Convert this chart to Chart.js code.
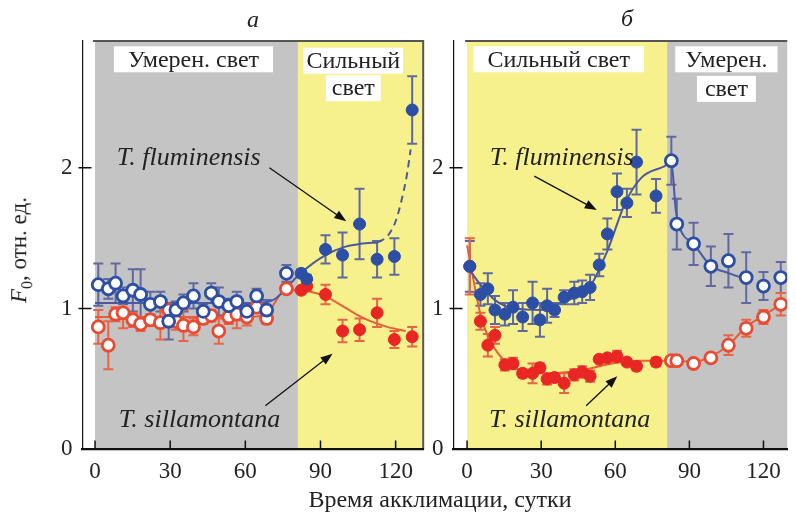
<!DOCTYPE html>
<html>
<head>
<meta charset="utf-8">
<script src="https://cdn.jsdelivr.net/npm/chart.js@4.4.1/dist/chart.umd.min.js"></script>
<style>
  body { margin: 0; background: #fff; }
  #wrap { position: relative; width: 796px; height: 514px; overflow: hidden; font-family: "Liberation Serif", serif; color: #222; }
  canvas { position: absolute; top: 0; }
  #cizq { left: 0; }
  #cder { left: 419px; }
  .lbl { position: absolute; white-space: nowrap; font-size: 24px; }
  .panel { font-style: italic; transform: translate(-50%, -50%); }
  #ytitle { left: 21px; top: 250px; transform: translate(-50%, -50%) rotate(-90deg); font-size: 23px; }
  #xtitle { left: 440px; top: 499px; transform: translate(-50%, -50%); font-size: 24px; }
</style>
</head>
<body>
<div id="wrap">
  <canvas id="cizq" width="432" height="514"></canvas>
  <canvas id="cder" width="377" height="514"></canvas>
  <div class="lbl panel" style="left:253px; top:19px;">а</div>
  <div class="lbl panel" style="left:627px; top:18px;">б</div>
  <div class="lbl" id="ytitle"><i>F</i><sub style="font-size:16px">0</sub>, отн. ед.</div>
  <div class="lbl" id="xtitle">Время акклимации, сутки</div>
</div>
<script>
// ---- data ----
const xTicks = [0, 30, 60, 90, 120];
const yTicks = [0, 1, 2];

// panel a: moderate light (open symbols)
const aModDays = [1.3, 5.3, 8.2, 11.2, 15.1, 18.2, 22.1, 26.1, 29.4, 32.3, 35.3, 39.3, 43.2, 46.4, 49.4, 53.4, 56.6, 60.6, 64.5, 68.5, 76.4];
const aBlueMod = [1.17, 1.14, 1.18, 1.09, 1.13, 1.10, 1.03, 1.05, 0.91, 0.99, 1.04, 1.09, 0.98, 1.11, 1.05, 1.02, 1.05, 0.98, 1.09, 0.99, 1.25];
const aBlueModErr = [0.15, 0.07, 0.14, 0.06, 0.15, 0.18, 0.09, 0.07, 0.13, 0.06, 0.06, 0.09, 0.05, 0.07, 0.10, 0.05, 0.07, 0.05, 0.05, 0.07, 0.06];
const aRedMod = [0.87, 0.74, 0.96, 0.97, 0.92, 0.89, 0.92, 0.90, 0.99, 0.91, 0.88, 0.87, 0.93, 0.95, 0.84, 0.94, 0.96, 0.94, 1.01, 0.93, 1.14];
const aRedModErr = [0.12, 0.17, 0.05, 0.11, 0.05, 0.05, 0.04, 0.12, 0.05, 0.06, 0.11, 0.06, 0.04, 0.04, 0.09, 0.05, 0.10, 0.06, 0.04, 0.04, 0.03];
// panel a: high light (filled symbols)
const aHighDays = [82.3, 84.5, 92, 98.8, 105.6, 112.6, 119.5, 126.6];
const aBlueHigh = [1.25, 1.21, 1.42, 1.38, 1.60, 1.35, 1.37, 2.41];
const aBlueHighErr = [0.03, 0.03, 0.10, 0.16, 0.25, 0.13, 0.13, 0.24];
const aRedHigh = [1.13, 1.16, 1.10, 0.84, 0.85, 0.97, 0.78, 0.80];
const aRedHighErr = [0.02, 0.03, 0.07, 0.08, 0.08, 0.10, 0.06, 0.07];
// panel a: fitted curves
const aBlueFitDays = [0, 20, 40, 60, 68, 72, 76, 82, 92, 100, 106, 113];
const aBlueFit = [1.04, 1.04, 1.04, 1.04, 1.045, 1.07, 1.14, 1.25, 1.38, 1.44, 1.46, 1.47];
const aBlueDashDays = [113, 117, 120, 122.5, 124.5, 126];
const aBlueDash = [1.47, 1.52, 1.62, 1.78, 1.95, 2.13];
const aRedFitDays = [0, 20, 40, 60, 67, 71, 74, 78, 82, 86, 91.6, 99.5, 107.4, 116.6, 124];
const aRedFit = [0.94, 0.94, 0.94, 0.94, 0.95, 1.02, 1.10, 1.13, 1.13, 1.12, 1.09, 1.01, 0.93, 0.87, 0.84];

// panel b: high light (filled symbols)
const bHighDays = [1.1, 5.4, 8.4, 11.3, 15.3, 18.6, 22.5, 26.5, 29.5, 32.4, 35.4, 39.3, 43.4, 46.6, 49.8, 53.5, 56.8, 60.7, 64.7, 68.6, 76.5];
const bBlueHigh = [1.30, 1.10, 1.14, 0.99, 0.96, 1.01, 0.94, 1.04, 0.92, 1.02, 0.99, 1.08, 1.11, 1.12, 1.15, 1.31, 1.53, 1.83, 1.75, 2.04, 1.80];
const bBlueHighErr = [0.18, 0.08, 0.11, 0.10, 0.08, 0.12, 0.10, 0.15, 0.12, 0.12, 0.05, 0.05, 0.08, 0.08, 0.09, 0.08, 0.11, 0.13, 0.10, 0.23, 0.12];
const bRedHigh = [1.30, 0.91, 0.74, 0.81, 0.60, 0.61, 0.54, 0.54, 0.58, 0.50, 0.51, 0.47, 0.53, 0.55, 0.52, 0.64, 0.65, 0.66, 0.62, 0.59, 0.62];
const bRedHighErr = [0.20, 0.06, 0.08, 0.06, 0.04, 0.04, 0.03, 0.07, 0.03, 0.04, 0.03, 0.07, 0.04, 0.04, 0.04, 0.02, 0.02, 0.04, 0.02, 0.03, 0.03];
// panel b: moderate light (open symbols)
const bModDays = [82.7, 84.9, 91.7, 98.7, 105.8, 113, 120, 127];
const bBlueMod = [2.05, 1.60, 1.46, 1.30, 1.34, 1.22, 1.16, 1.22];
const bBlueModErr = [0.17, 0.18, 0.15, 0.14, 0.19, 0.18, 0.10, 0.11];
const bRedMod = [0.63, 0.63, 0.61, 0.65, 0.74, 0.86, 0.94, 1.03];
const bRedModErr = [0.02, 0.02, 0.02, 0.02, 0.07, 0.06, 0.05, 0.08];
// panel b: fitted curves
const bBlueFitDays = [0, 5.4, 11.3, 19.2, 29.8, 39, 49.5, 56.8, 64, 70.6, 79.8, 82.7, 84.5, 86.4, 91.7, 98.3, 106.2, 113];
const bBlueFit = [1.30, 1.17, 1.06, 1.00, 0.99, 1.05, 1.15, 1.41, 1.75, 1.93, 2.01, 2.04, 1.70, 1.56, 1.46, 1.31, 1.25, 1.21];
const bRedFitDays = [0, 5.4, 8.5, 12.6, 19.2, 32.4, 45.6, 58.8, 70, 85, 91.7, 98.7, 105.8, 113, 120, 127];
const bRedFit = [1.45, 0.96, 0.80, 0.68, 0.58, 0.54, 0.56, 0.61, 0.63, 0.63, 0.62, 0.66, 0.74, 0.87, 0.95, 1.03];

// light regimes
const GRAY = 'rgb(196,196,196)', YELLOW = 'rgb(247,241,141)';
const aPhases = [{ from: 0, to: 81, color: GRAY }, { from: 81, to: 131, color: YELLOW }];
const bPhases = [{ from: 0, to: 81, color: YELLOW }, { from: 81, to: 131, color: GRAY }];

const BLUE = 'rgb(44,78,165)', BLUE_ERR = 'rgb(95,105,160)', BLUE_FIT = 'rgb(75,90,160)';
const RED = 'rgb(232,38,36)', RED_ERR = 'rgb(232,100,70)', RED_FIT = 'rgb(232,95,55)';

const xy = (xs, ys) => xs.map((d, i) => ({ x: d, y: ys[i] }));

function pts(days, vals, errs, color, errColor, open) {
    return {
        type: 'line', showLine: false, order: 1,
        data: xy(days, vals), errors: errs, errorColor: errColor,
        pointRadius: 6, pointBorderWidth: open ? 2.8 : 1,
        pointBorderColor: color, pointBackgroundColor: open ? '#fff' : color,
    };
}
function fit(days, vals, color, dash) {
    return {
        type: 'line', order: 5, data: xy(days, vals),
        borderColor: color, borderWidth: 2, borderDash: dash || [],
        pointRadius: 0, cubicInterpolationMode: 'monotone',
    };
}

const panelPlugin = {
    id: 'panel',
    beforeDraw(chart, args, o) {
        const { ctx, chartArea: a, scales: { x } } = chart;
        ctx.save();
        o.phases.forEach(p => {
            const x0 = x.getPixelForValue(p.from), x1 = Math.min(x.getPixelForValue(p.to), a.right);
            ctx.fillStyle = p.color;
            ctx.fillRect(x0, a.top, x1 - x0, a.bottom - a.top);
        });
        ctx.strokeStyle = '#555';
        ctx.lineWidth = 2;
        ctx.beginPath();
        ctx.moveTo(x.getPixelForValue(0) - 2, a.top);
        ctx.lineTo(a.right, a.top);
        if (o.rightEdge) ctx.lineTo(a.right, a.bottom);
        ctx.stroke();
        ctx.restore();
    },
    beforeDatasetsDraw(chart) {
        const { ctx, scales: { x, y } } = chart;
        ctx.save();
        ctx.lineWidth = 2;
        chart.data.datasets.forEach(ds => {
            if (!ds.errors) return;
            ctx.strokeStyle = ds.errorColor;
            ds.data.forEach((p, j) => {
                const e = ds.errors[j];
                const px = x.getPixelForValue(p.x);
                const t = y.getPixelForValue(p.y + e), b = y.getPixelForValue(p.y - e);
                ctx.beginPath();
                ctx.moveTo(px, t); ctx.lineTo(px, b);
                ctx.moveTo(px - 5, t); ctx.lineTo(px + 5, t);
                ctx.moveTo(px - 5, b); ctx.lineTo(px + 5, b);
                ctx.stroke();
            });
        });
        ctx.restore();
    },
    afterDatasetsDraw(chart, args, o) {
        const { ctx, scales: { x, y } } = chart;
        ctx.save();
        ctx.textAlign = 'center';
        ctx.textBaseline = 'middle';
        // arrows
        ctx.strokeStyle = '#111';
        ctx.fillStyle = '#111';
        ctx.lineWidth = 1.3;
        o.arrows.forEach(ar => {
            const x0 = x.getPixelForValue(ar[0]), y0 = y.getPixelForValue(ar[1]);
            const x1 = x.getPixelForValue(ar[2]), y1 = y.getPixelForValue(ar[3]);
            const ang = Math.atan2(y1 - y0, x1 - x0);
            ctx.beginPath(); ctx.moveTo(x0, y0); ctx.lineTo(x1 - 8 * Math.cos(ang), y1 - 8 * Math.sin(ang)); ctx.stroke();
            ctx.beginPath();
            ctx.moveTo(x1, y1);
            ctx.lineTo(x1 - 12 * Math.cos(ang) + 4.5 * Math.sin(ang), y1 - 12 * Math.sin(ang) - 4.5 * Math.cos(ang));
            ctx.lineTo(x1 - 12 * Math.cos(ang) - 4.5 * Math.sin(ang), y1 - 12 * Math.sin(ang) + 4.5 * Math.cos(ang));
            ctx.closePath(); ctx.fill();
        });
        // regime labels on white boxes
        ctx.font = '24px "Liberation Serif"';
        o.boxes.forEach(b => {
            const cx = x.getPixelForValue(b.x), cy = y.getPixelForValue(b.y);
            const w = ctx.measureText(b.text).width + 2 * b.pad;
            ctx.fillStyle = '#fff';
            ctx.fillRect(cx - w / 2, cy - 13, w, 26);
            ctx.fillStyle = '#222';
            ctx.fillText(b.text, cx, cy + 1);
        });
        // species names
        ctx.font = 'italic 26px "Liberation Serif"';
        ctx.fillStyle = '#222';
        o.species.forEach(s => ctx.fillText(s.text, x.getPixelForValue(s.x), y.getPixelForValue(s.y)));
        ctx.restore();
    },
    afterDraw(chart) {
        // inner tick marks
        const { ctx, chartArea: a, scales: { x, y } } = chart;
        ctx.save();
        ctx.strokeStyle = '#111';
        ctx.lineWidth = 1.5;
        ctx.beginPath();
        x.ticks.forEach(t => { const px = x.getPixelForValue(t.value); ctx.moveTo(px, a.bottom); ctx.lineTo(px, a.bottom - 9); });
        y.ticks.forEach(t => { if (t.value === 0) return; const py = y.getPixelForValue(t.value); ctx.moveTo(a.left - 4, py); ctx.lineTo(a.left + 9, py); });
        ctx.stroke();
        ctx.restore();
    }
};

function scales(xmin, xmax) {
    const tickFont = { family: 'Liberation Serif', size: 23 };
    return {
        x: {
            type: 'linear', min: xmin, max: xmax,
            afterBuildTicks: s => { s.ticks = xTicks.map(v => ({ value: v })); },
            grid: { display: false, drawTicks: false },
            border: { color: '#111', width: 2.2 },
            ticks: { font: tickFont, color: '#222', padding: 9 },
        },
        y: {
            type: 'linear', min: 0, max: 2.9,
            afterBuildTicks: s => { s.ticks = yTicks.map(v => ({ value: v })); },
            grid: { display: false, drawTicks: false },
            border: { color: '#111', width: 1.2 },
            ticks: { font: tickFont, color: '#222', padding: 10 },
        }
    };
}

let izq = new Chart(document.getElementById('cizq').getContext('2d'), {
    type: 'scatter',
    data: {
        datasets: [
            pts(aModDays, aBlueMod, aBlueModErr, BLUE, BLUE_ERR, true),
            pts(aHighDays, aBlueHigh, aBlueHighErr, BLUE, BLUE_ERR, false),
            Object.assign(pts(aModDays, aRedMod, aRedModErr, 'rgb(232,75,50)', RED_ERR, true), { order: 2 }),
            Object.assign(pts(aHighDays, aRedHigh, aRedHighErr, RED, RED_ERR, false), { order: 2 }),
            fit(aBlueFitDays, aBlueFit, BLUE_FIT),
            fit(aBlueDashDays, aBlueDash, BLUE_FIT, [7, 5]),
            fit(aRedFitDays, aRedFit, RED_FIT),
        ]
    },
    options: {
        responsive: false, animation: false,
        layout: { padding: { left: 51, right: 5, top: 41, bottom: 19 } },
        scales: scales(-5, 131),
        plugins: {
            legend: { display: false }, tooltip: { enabled: false },
            panel: {
                phases: aPhases, rightEdge: true,
                boxes: [
                    { text: 'Умерен. свет', x: 39.3, y: 2.77, pad: 14 },
                    { text: 'Сильный', x: 103.1, y: 2.76, pad: 3 },
                    { text: 'свет', x: 103.1, y: 2.565, pad: 6 },
                ],
                species: [
                    { text: 'T. fluminensis', x: 37.4, y: 2.07 },
                    { text: 'T. sillamontana', x: 41.7, y: 0.21 },
                ],
                arrows: [[69.6, 2.0, 100.3, 1.62], [68, 0.31, 94.8, 0.68]],
            }
        }
    },
    plugins: [panelPlugin]
});

let der = new Chart(document.getElementById('cder').getContext('2d'), {
    type: 'scatter',
    data: {
        datasets: [
            pts(bHighDays, bBlueHigh, bBlueHighErr, BLUE, BLUE_ERR, false),
            pts(bModDays, bBlueMod, bBlueModErr, BLUE, BLUE_ERR, true),
            Object.assign(pts(bHighDays, bRedHigh, bRedHighErr, RED, RED_ERR, false), { order: 2 }),
            Object.assign(pts(bModDays, bRedMod, bRedModErr, 'rgb(232,75,50)', RED_ERR, true), { order: 2 }),
            fit(bBlueFitDays, bBlueFit, BLUE_FIT),
            fit(bRedFitDays, bRedFit, RED_FIT),
        ]
    },
    options: {
        responsive: false, animation: false,
        layout: { padding: { left: 3, right: 0, top: 41, bottom: 19 } },
        scales: scales(-5.5, 129.6),
        plugins: {
            legend: { display: false }, tooltip: { enabled: false },
            panel: {
                phases: bPhases, rightEdge: false,
                boxes: [
                    { text: 'Сильный свет', x: 37.1, y: 2.77, pad: 14 },
                    { text: 'Умерен.', x: 105, y: 2.77, pad: 10 },
                    { text: 'свет', x: 105, y: 2.56, pad: 8 },
                ],
                species: [
                    { text: 'T. fluminensis', x: 38.3, y: 2.07 },
                    { text: 'T. sillamontana', x: 41.5, y: 0.21 },
                ],
                arrows: [[27.2, 1.94, 52.5, 1.70], [48.2, 0.31, 60.8, 0.52]],
            }
        }
    },
    plugins: [panelPlugin]
});
</script>
</body>
</html>
